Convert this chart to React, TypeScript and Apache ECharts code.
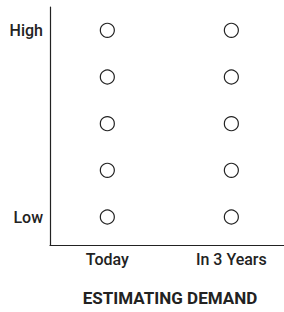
import React, { useEffect, useRef } from "react";
import * as echarts from "echarts";

const categories = ["Today", "In 3 Years"];
const categoryPos = [0.245, 0.775];
const levels = [1, 2, 3, 4, 5];
const levelLabels: Record<number, string> = { 1: "Low", 5: "High" };
const title = "ESTIMATING DEMAND";

export default function App() {
  const ref = useRef<HTMLDivElement>(null);
  useEffect(() => {
    document.body.style.margin = "0";
    const chart = echarts.init(ref.current!, null, { renderer: "svg" });
    const data: number[][] = [];
    categoryPos.forEach((x) => levels.forEach((y) => data.push([x, y])));
    const font = "Roboto";
    chart.setOption({
      animation: false,
      grid: { left: 50, right: 0, top: 7, bottom: 67 },
      xAxis: {
        type: "value",
        min: 0,
        max: 1,
        splitLine: { show: false },
        axisTick: { show: false },
        axisLine: { lineStyle: { color: "#222", width: 1.2 } },
        axisLabel: {
          customValues: categoryPos,
          formatter: (v: number) => {
            const i = categoryPos.findIndex((p) => Math.abs(p - v) < 1e-6);
            return i >= 0 ? categories[i] : "";
          },
          color: "#222",
          fontFamily: font,
          fontSize: 16,
          fontWeight: 500,
          margin: 6,
        },
      },
      yAxis: {
        type: "value",
        min: 0.4,
        max: 5.5,
        splitLine: { show: false },
        axisTick: { show: false },
        axisLine: { show: true, lineStyle: { color: "#222", width: 1.2 } },
        axisLabel: {
          customValues: [1, 5],
          formatter: (v: number) => levelLabels[Math.round(v)] ?? "",
          color: "#222",
          fontFamily: font,
          fontSize: 16,
          fontWeight: 500,
          margin: 7,
        },
      },
      series: [
        {
          type: "scatter",
          data,
          symbol: "circle",
          symbolSize: 14,
          itemStyle: { color: "#fff", borderColor: "#222", borderWidth: 1.2, opacity: 1 },
          emphasis: { disabled: true },
        },
      ],
      graphic: [
        {
          type: "text",
          x: 170,
          y: 298,
          style: {
            text: title,
            fontFamily: font,
            fontSize: 17,
            fontWeight: "bold",
            fill: "#222",
            textAlign: "center",
            textVerticalAlign: "middle",
          },
        },
      ],
    });
    return () => chart.dispose();
  }, []);
  return <div ref={ref} style={{ width: 284, height: 312 }} />;
}
